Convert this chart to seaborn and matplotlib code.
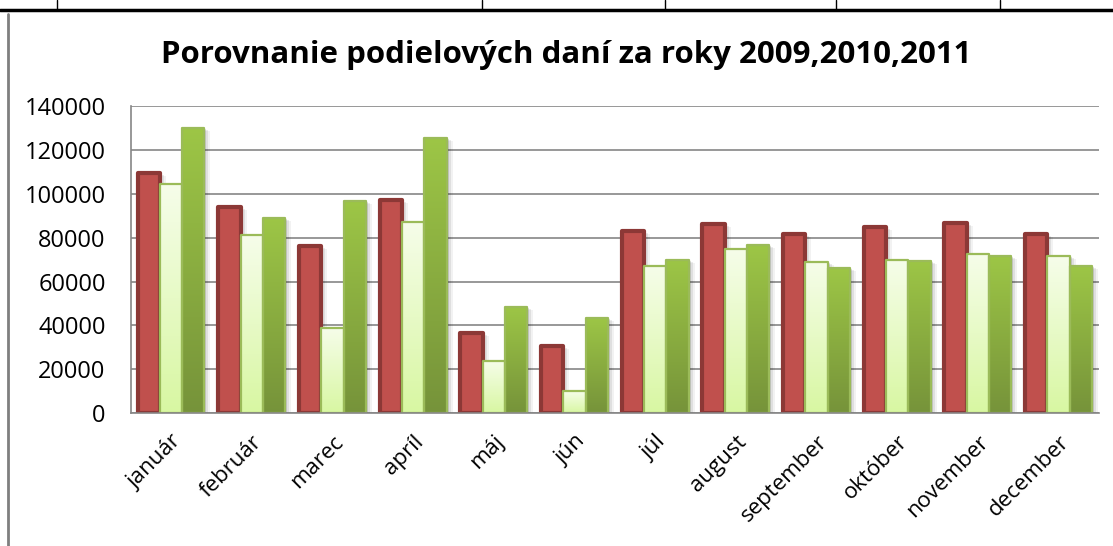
import numpy as np
import pandas as pd
import matplotlib
matplotlib.use("Agg")
import matplotlib.pyplot as plt
import matplotlib.lines as mlines
import matplotlib.patches as mpatches
import matplotlib.transforms as mtransforms
from matplotlib.colors import LinearSegmentedColormap
import seaborn as sns

mesiace = ["január", "február", "marec", "apríl", "máj", "jún",
           "júl", "august", "september", "október", "november", "december"]
roky = ["2009", "2010", "2011"]
dane_2009 = [109500, 94000, 76000, 97000, 36500, 30500, 83000, 86000, 81500, 85000, 86500, 81500]
dane_2010 = [104500, 81000, 39000, 87000, 24000, 10000, 67000, 75000, 69000, 70000, 72500, 71500]
dane_2011 = [130000, 89000, 96500, 125500, 48500, 43500, 70000, 76500, 66000, 69500, 71500, 67000]
y_ticks = [0, 20000, 40000, 60000, 80000, 100000, 120000, 140000]

df = pd.DataFrame({
    "mesiac": mesiace * 3,
    "rok": [r for r in roky for _ in mesiace],
    "hodnota": dane_2009 + dane_2010 + dane_2011,
})

sns.set_theme(style="white")
plt.rcParams['font.family'] = ['Open Sans', 'DejaVu Sans']
plt.rcParams['text.color'] = 'black'

fig = plt.figure(figsize=(11.13, 5.46), dpi=100)
ax = fig.add_axes([0.1174, 0.243, 0.870, 0.563])

sns.barplot(data=df, x="mesiac", y="hodnota", hue="rok", order=mesiace,
            palette=["#C0504D", "#EFFCD8", "#8AB043"], width=0.83, saturation=1,
            legend=False, errorbar=None, ax=ax, zorder=3)

# gradient fills like excel
cmaps = {
    1: LinearSegmentedColormap.from_list("svetla", ["#F6FDEA", "#D8F7A2"]),
    2: LinearSegmentedColormap.from_list("zelena", ["#9DC646", "#76933A"]),
}
edge = {0: ("#8C3836", 3.0), 1: ("#9BBB59", 1.6), 2: ("#9BBB59", 1.6)}
grad = np.linspace(0, 1, 256).reshape(-1, 1)
for i, cont in enumerate(ax.containers):
    for p in cont.patches:
        p.set_edgecolor(edge[i][0])
        p.set_linewidth(edge[i][1])
        p.set_joinstyle("round")
        # soft shadow behind the bar
        for dx, a in [(2, 0.12), (4, 0.08), (6, 0.05)]:
            tr = ax.transData + mtransforms.ScaledTranslation(dx / 100, -dx / 200, fig.dpi_scale_trans)
            sh = mpatches.Rectangle((p.get_x(), 0), p.get_width(), p.get_height(),
                                    transform=tr, facecolor="black", alpha=a,
                                    edgecolor="none", zorder=2.5)
            ax.add_patch(sh)
        if i in cmaps:
            x0 = p.get_x()
            w = p.get_width()
            h = p.get_height()
            im = ax.imshow(grad, extent=[x0, x0 + w, 0, h], aspect="auto",
                           cmap=cmaps[i], origin="upper", zorder=3.1)
            im.set_clip_path(p)
            p.set_facecolor("none")
            p.set_zorder(3.2)

ax.set_xlim(-0.5, len(mesiace) - 0.5)
ax.set_ylim(0, 140000)
ax.set_yticks(y_ticks)
ax.set_yticklabels([str(t) for t in y_ticks])
ax.yaxis.grid(True, color="#868686", linewidth=1.2, zorder=0)
ax.set_axisbelow(True)
ax.set_xlabel("")
ax.set_ylabel("")
for s in ["top", "right"]:
    ax.spines[s].set_visible(False)
for s in ["left", "bottom"]:
    ax.spines[s].set_color("#868686")
    ax.spines[s].set_linewidth(1.2)
ax.spines["bottom"].set_zorder(4)
ax.tick_params(axis="y", length=0, pad=18, labelsize=17, colors="black")
ax.tick_params(axis="x", length=0, pad=13, labelsize=16, colors="black")
plt.setp(ax.get_xticklabels(), rotation=45, ha="right", rotation_mode="anchor")

fig.text(0.509, 0.885, "Porovnanie podielových daní za roky 2009,2010,2011",
         ha="center", va="baseline", fontsize=22.5, fontweight="bold", color="black")

# okraje bunky tabulky
fig.add_artist(mlines.Line2D([0, 1], [0.982, 0.982], color="black", linewidth=2.5))
for xv in [57, 482, 665, 836, 1000]:
    fig.add_artist(mlines.Line2D([xv / 1113, xv / 1113], [0.982, 1.0], color="black", linewidth=1))
fig.add_artist(mlines.Line2D([0.007, 0.007], [0, 0.975], color="#7f7f7f", linewidth=2))

fig.savefig("out.png", dpi=100)
